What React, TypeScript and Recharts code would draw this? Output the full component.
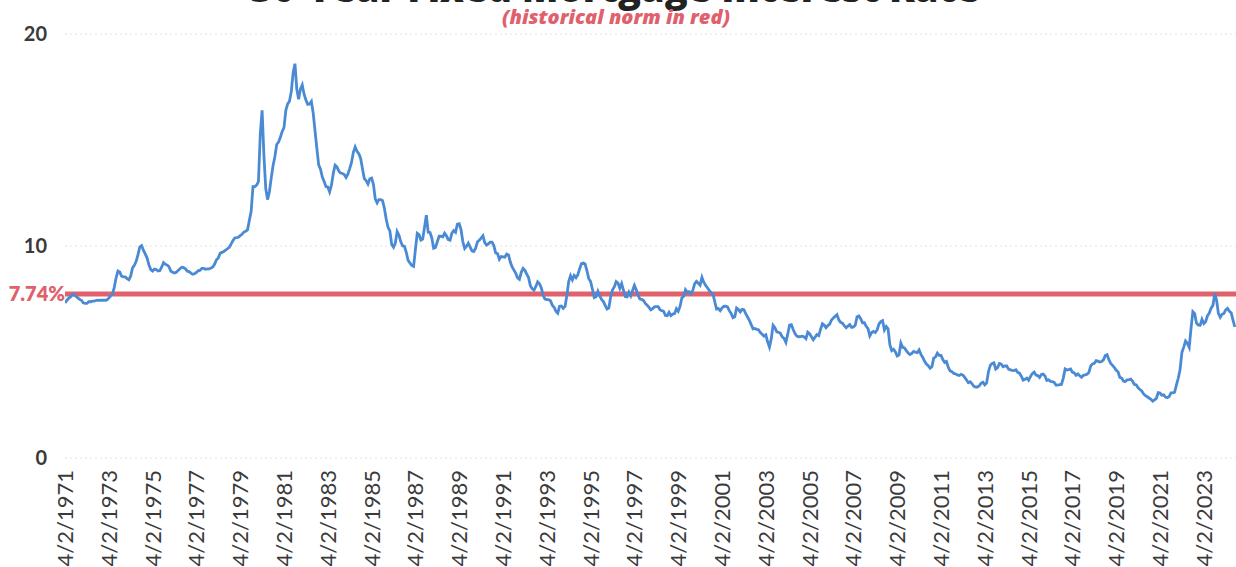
import React from 'react';
import { LineChart, Line, XAxis, YAxis, CartesianGrid, ReferenceLine } from 'recharts';

// Monthly average 30-year fixed mortgage rate (%), first value = April 1971
const rates1970s = [
  7.31, 7.43, 7.53, 7.6, 7.7, 7.69, 7.63, 7.55, 7.48,
  7.44, 7.32, 7.29, 7.29, 7.37, 7.37, 7.4, 7.4, 7.43, 7.45, 7.44, 7.44,
  7.44, 7.44, 7.46, 7.54, 7.65, 7.73, 8.05, 8.5, 8.82, 8.77, 8.58, 8.54,
  8.54, 8.46, 8.41, 8.58, 8.97, 9.09, 9.28, 9.59, 9.96, 10.02, 9.79, 9.62,
  9.43, 9.1, 8.89, 8.82, 8.91, 8.89, 8.82, 8.84, 9.01, 9.22, 9.14, 9.1,
  9.02, 8.81, 8.76, 8.73, 8.76, 8.85, 8.93, 9.0, 8.98, 8.92, 8.81, 8.79,
  8.72, 8.67, 8.69, 8.75, 8.83, 8.86, 8.94, 8.94, 8.9, 8.92, 8.92, 8.96,
  9.01, 9.15, 9.35, 9.44, 9.66, 9.7, 9.74, 9.8, 9.87, 9.94, 10.09, 10.25,
  10.38, 10.39, 10.41, 10.49, 10.55, 10.66, 10.7, 10.76, 11.2, 11.64, 12.8, 12.8,
];

const rates1980s = [
  12.87, 13.04, 15.28, 16.4, 14.26, 12.71, 12.19, 12.56, 13.2, 13.79, 14.21, 14.79,
  14.9, 15.13, 15.4, 15.58, 16.4, 16.7, 16.83, 17.29, 18.16, 18.6, 17.4, 16.92,
  17.4, 17.6, 17.16, 16.89, 16.68, 16.7, 16.82, 16.27, 15.43, 14.61, 13.83, 13.62,
  13.25, 13.04, 12.8, 12.78, 12.55, 12.87, 13.42, 13.81, 13.73, 13.54, 13.44, 13.42,
  13.37, 13.23, 13.39, 13.65, 13.94, 14.42, 14.67, 14.47, 14.35, 14.13, 13.64, 13.18,
  13.08, 12.92, 13.17, 13.2, 12.91, 12.22, 12.03, 12.19, 12.19, 12.14, 11.78, 11.26,
  10.88, 10.71, 10.08, 9.94, 10.14, 10.68, 10.51, 10.2, 10.01, 9.98, 9.7, 9.32,
  9.2, 9.08, 9.04, 9.83, 10.6, 10.54, 10.28, 10.33, 10.89, 11.45, 10.65, 10.64,
  10.38, 9.89, 9.93, 10.2, 10.46, 10.46, 10.43, 10.6, 10.48, 10.3, 10.27, 10.61,
  10.73, 10.65, 11.03, 11.05, 10.77, 10.2, 9.88, 9.99, 10.13, 9.95, 9.77, 9.74,
];

const rates1990s = [
  9.9, 10.2, 10.27, 10.37, 10.48, 10.16, 10.04, 10.1, 10.18, 10.18, 10.01, 9.67,
  9.64, 9.37, 9.5, 9.49, 9.47, 9.62, 9.58, 9.24, 9.01, 8.86, 8.71, 8.5,
  8.43, 8.76, 8.94, 8.85, 8.67, 8.51, 8.13, 7.98, 7.92, 8.09, 8.31, 8.22,
  8.02, 7.68, 7.5, 7.47, 7.47, 7.42, 7.21, 7.11, 6.92, 6.83, 7.16, 7.17,
  7.06, 7.15, 7.68, 8.32, 8.6, 8.4, 8.61, 8.51, 8.64, 8.93, 9.17, 9.2,
  9.15, 8.83, 8.46, 8.32, 7.96, 7.57, 7.61, 7.86, 7.64, 7.48, 7.38, 7.2,
  7.03, 7.08, 7.62, 7.93, 8.07, 8.32, 8.25, 8.0, 8.23, 7.92, 7.62, 7.6,
  7.82, 7.65, 7.9, 8.14, 7.94, 7.69, 7.5, 7.48, 7.43, 7.29, 7.21, 7.1,
  6.99, 7.04, 7.13, 7.14, 7.14, 7.0, 6.95, 6.92, 6.72, 6.71, 6.87, 6.72,
  6.79, 6.81, 7.04, 6.92, 7.15, 7.55, 7.63, 7.94, 7.82, 7.85, 7.74, 7.91,
];

const rates2000s = [
  8.21, 8.33, 8.24, 8.15, 8.52, 8.29, 8.15, 8.03, 7.91, 7.8, 7.75, 7.38,
  7.03, 7.05, 6.95, 7.08, 7.15, 7.16, 7.13, 6.95, 6.82, 6.62, 6.66, 7.07,
  7.0, 6.89, 7.01, 6.99, 6.81, 6.65, 6.49, 6.29, 6.09, 6.11, 6.07, 6.05,
  5.92, 5.84, 5.75, 5.81, 5.48, 5.23, 5.63, 6.26, 6.15, 5.95, 5.93, 5.88,
  5.71, 5.64, 5.45, 5.83, 6.27, 6.29, 6.06, 5.87, 5.75, 5.72, 5.73, 5.75,
  5.71, 5.63, 5.93, 5.86, 5.72, 5.58, 5.7, 5.82, 5.77, 6.07, 6.33, 6.27,
  6.15, 6.25, 6.32, 6.51, 6.6, 6.68, 6.76, 6.52, 6.4, 6.36, 6.24, 6.14,
  6.22, 6.29, 6.16, 6.18, 6.26, 6.66, 6.7, 6.57, 6.38, 6.38, 6.21, 6.1,
  5.76, 5.92, 5.97, 5.92, 6.04, 6.32, 6.43, 6.48, 6.04, 6.2, 6.09, 5.33,
  5.06, 5.13, 5.0, 4.81, 4.86, 5.42, 5.22, 5.19, 5.06, 4.95, 4.88, 4.93,
];

const rates2010s = [
  5.03, 4.99, 4.97, 5.1, 4.89, 4.74, 4.56, 4.43, 4.35, 4.23, 4.3, 4.71,
  4.76, 4.95, 4.84, 4.84, 4.64, 4.51, 4.55, 4.27, 4.11, 4.07, 3.99, 3.96,
  3.92, 3.89, 3.95, 3.91, 3.8, 3.68, 3.55, 3.6, 3.5, 3.38, 3.35, 3.35,
  3.41, 3.53, 3.57, 3.45, 3.54, 4.07, 4.37, 4.46, 4.49, 4.19, 4.26, 4.46,
  4.43, 4.3, 4.34, 4.34, 4.19, 4.16, 4.13, 4.12, 4.16, 4.04, 4.0, 3.86,
  3.67, 3.71, 3.77, 3.67, 3.84, 3.98, 4.05, 3.91, 3.89, 3.8, 3.94, 3.96,
  3.87, 3.66, 3.69, 3.61, 3.6, 3.57, 3.44, 3.44, 3.46, 3.47, 3.77, 4.2,
  4.15, 4.17, 4.2, 4.05, 4.01, 3.9, 3.97, 3.88, 3.81, 3.9, 3.92, 3.95,
  4.03, 4.33, 4.44, 4.47, 4.59, 4.57, 4.53, 4.55, 4.63, 4.83, 4.87, 4.64,
  4.46, 4.37, 4.27, 4.14, 4.07, 3.8, 3.77, 3.62, 3.61, 3.69, 3.7, 3.72,
];

const rates2020s = [
  3.62, 3.47, 3.45, 3.31, 3.23, 3.16, 3.02, 2.94, 2.89, 2.83, 2.77, 2.68,
  2.74, 2.81, 3.08, 3.06, 2.96, 2.98, 2.87, 2.84, 2.9, 3.07, 3.07, 3.1,
  3.45, 3.76, 4.17, 4.98, 5.23, 5.52, 5.41, 5.22, 6.11, 6.9, 6.81, 6.36,
  6.27, 6.26, 6.54, 6.34, 6.43, 6.71, 6.84, 7.07, 7.2, 7.76, 7.44, 6.82,
  6.64, 6.78, 6.82, 6.99, 7.06, 6.92, 6.85, 6.5, 6.18,
];

// Long-run average shown as the red reference line
const historicalNorm = 7.74;

// X-axis labels every two years, on April 2
const tickYears = [
  1971, 1973, 1975, 1977, 1979, 1981, 1983, 1985, 1987, 1989, 1991, 1993, 1995, 1997,
  1999, 2001, 2003, 2005, 2007, 2009, 2011, 2013, 2015, 2017, 2019, 2021, 2023,
];
const yTicks = [0, 10, 20];

const APRIL_OFFSET = 0.25; // 4/2 as a fraction of the year
const firstPoint = 1971 + APRIL_OFFSET;

const allRates = [rates1970s, rates1980s, rates1990s, rates2000s, rates2010s, rates2020s].flat();
const data = allRates.map((rate, i) => ({ t: firstPoint + i / 12, rate }));
const xTicks = tickYears.map((y) => y + APRIL_OFFSET);

const RED = '#e0606c';
const BLUE = '#4a8ad4';
const LABEL_FONT = 'Lato, "Open Sans", sans-serif';

const DateTick = (props: any) => {
  const { x, y, payload } = props;
  const year = Math.floor(payload.value);
  return (
    <g transform={`translate(${x},${y})`}>
      <text
        transform="rotate(-90)"
        textAnchor="end"
        dy="0.36em"
        fill="#3a3a3a"
        fontSize={22}
        fontFamily={LABEL_FONT}
      >
        {`4/2/${year}`}
      </text>
    </g>
  );
};

export default function App() {
  return (
    <div
      style={{
        position: 'absolute',
        left: 0,
        top: 0,
        width: 1236,
        height: 567,
        background: '#ffffff',
        overflow: 'hidden',
      }}
    >
      <LineChart
        width={1236}
        height={567}
        data={data}
        margin={{ top: 34, right: 0, bottom: 0, left: 0 }}
      >
        <CartesianGrid vertical={false} stroke="#e2e2e2" strokeDasharray="2 3" />
        <XAxis
          dataKey="t"
          type="number"
          domain={[firstPoint, 2024.72]}
          ticks={xTicks}
          interval={0}
          height={109}
          axisLine={false}
          tickLine={false}
          tickSize={4}
          tickMargin={8}
          tick={<DateTick />}
          allowDataOverflow
        />
        <YAxis
          domain={[0, 20]}
          ticks={yTicks}
          width={65}
          axisLine={false}
          tickLine={false}
          tickSize={6}
          tickMargin={12}
          tick={{ fill: '#3a3a3a', fontSize: 20, fontWeight: 700, fontFamily: LABEL_FONT }}
        />
        <ReferenceLine
          y={historicalNorm}
          stroke={RED}
          strokeWidth={5}
          ifOverflow="visible"
          label={{
            value: `${historicalNorm}%`,
            position: 'left',
            offset: 0,
            fill: RED,
            fontSize: 20,
            fontWeight: 800,
            fontFamily: LABEL_FONT,
          }}
        />
        <Line
          type="linear"
          dataKey="rate"
          stroke={BLUE}
          strokeWidth={2.8}
          dot={false}
          isAnimationActive={false}
        />
      </LineChart>
      <svg
        width={1236}
        height={40}
        style={{ position: 'absolute', left: 0, top: 0, pointerEvents: 'none' }}
      >
        <text
          x={615}
          y={1.5}
          textAnchor="middle"
          fontSize={38}
          fontWeight={800}
          fill="#222222"
          fontFamily='"Open Sans", sans-serif'
        >
          30-Year Fixed Mortgage Interest Rate
        </text>
        <text
          x={616}
          y={24}
          textAnchor="middle"
          fontSize={20}
          fontWeight={800}
          fontStyle="italic"
          fill={RED}
          fontFamily='"Open Sans", sans-serif'
        >
          (historical norm in red)
        </text>
      </svg>
    </div>
  );
}
